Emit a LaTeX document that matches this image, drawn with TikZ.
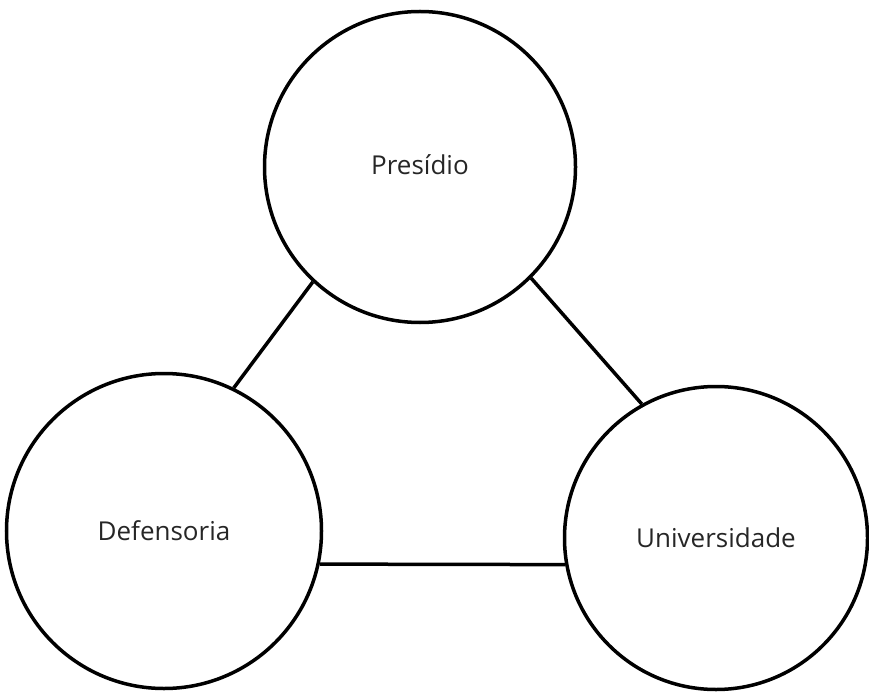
\documentclass[tikz,border=0pt]{standalone}
\usepackage{fontspec}
\setmainfont{Open Sans}
\usepackage{tikz}
\usetikzlibrary{positioning}
\tikzset{
  actor/.style={circle, draw=black, line width=3.5pt, inner sep=0pt, text=black!85, font=\fontsize{26}{30}\selectfont},
  link/.style={line width=3.5pt, draw=black},
}
\begin{document}
\begin{tikzpicture}[x=1pt, y=-1pt]
  \useasboundingbox (0,0) rectangle (869,700);
  \node[actor, minimum size=311pt] (pres) at (420,167) {\raisebox{4pt}{Presídio}};
  \node[actor, minimum size=315pt] (def) at (164,531) {Defensoria};
  \node[actor, minimum size=303pt] (univ) at (716,538) {Universidade};
  \draw[link] (pres.227) -- (def.64);
  \draw[link] (pres.315) -- (univ.119);
  \draw[link] (def.-12) -- (univ.190);
\end{tikzpicture}
\end{document}
